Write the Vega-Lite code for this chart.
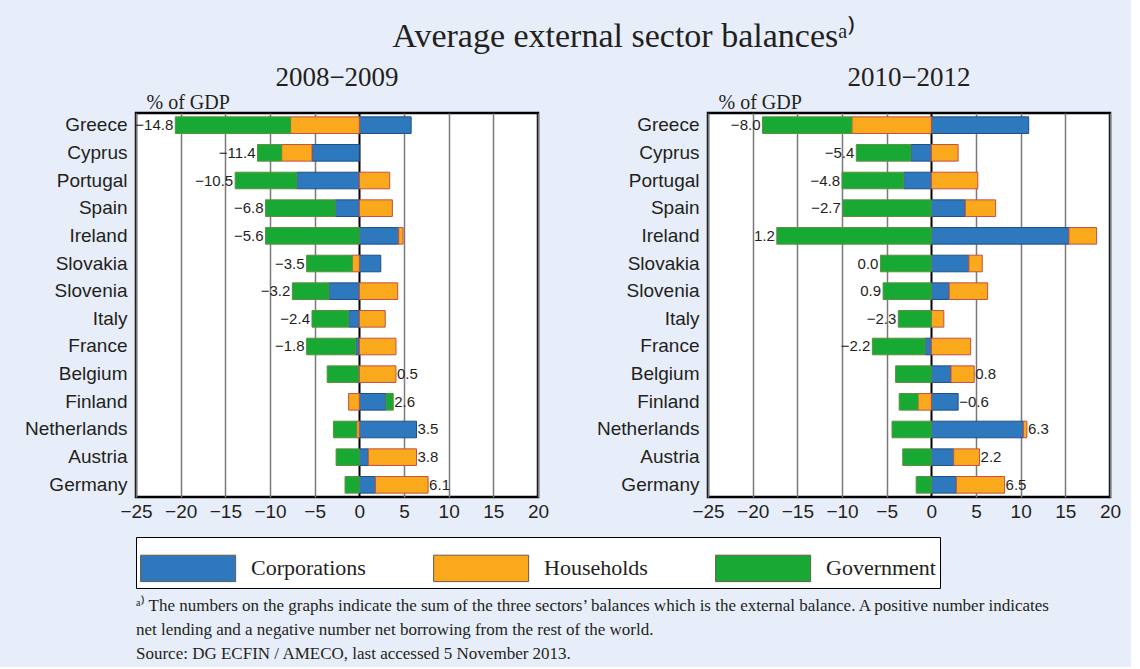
{
  "$schema": "https://vega.github.io/schema/vega-lite/v6.json",
  "background": "#E8EEF9",
  "padding": {"left": 23, "top": 20, "right": 10, "bottom": 5},
  "title": {"text": "Average external sector balancesᵃ⁾", "font": "Liberation Serif", "fontSize": 34, "fontWeight": "normal", "color": "#231F20", "anchor": "middle", "offset": 10, "dx": 52},
  "datasets": {
    "balances": [
      {"period": "2008−2009", "country": "Greece", "sector": "Corporations", "value": 5.8},
      {"period": "2008−2009", "country": "Greece", "sector": "Households", "value": -7.7},
      {"period": "2008−2009", "country": "Greece", "sector": "Government", "value": -12.9},
      {"period": "2008−2009", "country": "Cyprus", "sector": "Corporations", "value": -5.3},
      {"period": "2008−2009", "country": "Cyprus", "sector": "Households", "value": -3.4},
      {"period": "2008−2009", "country": "Cyprus", "sector": "Government", "value": -2.7},
      {"period": "2008−2009", "country": "Portugal", "sector": "Corporations", "value": -7.0},
      {"period": "2008−2009", "country": "Portugal", "sector": "Households", "value": 3.4},
      {"period": "2008−2009", "country": "Portugal", "sector": "Government", "value": -6.9},
      {"period": "2008−2009", "country": "Spain", "sector": "Corporations", "value": -2.7},
      {"period": "2008−2009", "country": "Spain", "sector": "Households", "value": 3.7},
      {"period": "2008−2009", "country": "Spain", "sector": "Government", "value": -7.8},
      {"period": "2008−2009", "country": "Ireland", "sector": "Corporations", "value": 4.4},
      {"period": "2008−2009", "country": "Ireland", "sector": "Households", "value": 0.5},
      {"period": "2008−2009", "country": "Ireland", "sector": "Government", "value": -10.5},
      {"period": "2008−2009", "country": "Slovakia", "sector": "Corporations", "value": 2.4},
      {"period": "2008−2009", "country": "Slovakia", "sector": "Households", "value": -0.8},
      {"period": "2008−2009", "country": "Slovakia", "sector": "Government", "value": -5.1},
      {"period": "2008−2009", "country": "Slovenia", "sector": "Corporations", "value": -3.4},
      {"period": "2008−2009", "country": "Slovenia", "sector": "Households", "value": 4.3},
      {"period": "2008−2009", "country": "Slovenia", "sector": "Government", "value": -4.1},
      {"period": "2008−2009", "country": "Italy", "sector": "Corporations", "value": -1.2},
      {"period": "2008−2009", "country": "Italy", "sector": "Households", "value": 2.9},
      {"period": "2008−2009", "country": "Italy", "sector": "Government", "value": -4.1},
      {"period": "2008−2009", "country": "France", "sector": "Corporations", "value": -0.4},
      {"period": "2008−2009", "country": "France", "sector": "Households", "value": 4.1},
      {"period": "2008−2009", "country": "France", "sector": "Government", "value": -5.5},
      {"period": "2008−2009", "country": "Belgium", "sector": "Corporations", "value": -0.1},
      {"period": "2008−2009", "country": "Belgium", "sector": "Households", "value": 4.1},
      {"period": "2008−2009", "country": "Belgium", "sector": "Government", "value": -3.5},
      {"period": "2008−2009", "country": "Finland", "sector": "Corporations", "value": 3.0},
      {"period": "2008−2009", "country": "Finland", "sector": "Households", "value": -1.2},
      {"period": "2008−2009", "country": "Finland", "sector": "Government", "value": 0.8},
      {"period": "2008−2009", "country": "Netherlands", "sector": "Corporations", "value": 6.4},
      {"period": "2008−2009", "country": "Netherlands", "sector": "Households", "value": -0.3},
      {"period": "2008−2009", "country": "Netherlands", "sector": "Government", "value": -2.6},
      {"period": "2008−2009", "country": "Austria", "sector": "Corporations", "value": 1.0},
      {"period": "2008−2009", "country": "Austria", "sector": "Households", "value": 5.4},
      {"period": "2008−2009", "country": "Austria", "sector": "Government", "value": -2.6},
      {"period": "2008−2009", "country": "Germany", "sector": "Corporations", "value": 1.8},
      {"period": "2008−2009", "country": "Germany", "sector": "Households", "value": 5.9},
      {"period": "2008−2009", "country": "Germany", "sector": "Government", "value": -1.6},
      {"period": "2010−2012", "country": "Greece", "sector": "Corporations", "value": 10.9},
      {"period": "2010−2012", "country": "Greece", "sector": "Households", "value": -8.9},
      {"period": "2010−2012", "country": "Greece", "sector": "Government", "value": -10.0},
      {"period": "2010−2012", "country": "Cyprus", "sector": "Corporations", "value": -2.3},
      {"period": "2010−2012", "country": "Cyprus", "sector": "Households", "value": 3.0},
      {"period": "2010−2012", "country": "Cyprus", "sector": "Government", "value": -6.1},
      {"period": "2010−2012", "country": "Portugal", "sector": "Corporations", "value": -3.1},
      {"period": "2010−2012", "country": "Portugal", "sector": "Households", "value": 5.2},
      {"period": "2010−2012", "country": "Portugal", "sector": "Government", "value": -6.9},
      {"period": "2010−2012", "country": "Spain", "sector": "Corporations", "value": 3.8},
      {"period": "2010−2012", "country": "Spain", "sector": "Households", "value": 3.4},
      {"period": "2010−2012", "country": "Spain", "sector": "Government", "value": -9.9},
      {"period": "2010−2012", "country": "Ireland", "sector": "Corporations", "value": 15.4},
      {"period": "2010−2012", "country": "Ireland", "sector": "Households", "value": 3.1},
      {"period": "2010−2012", "country": "Ireland", "sector": "Government", "value": -17.3},
      {"period": "2010−2012", "country": "Slovakia", "sector": "Corporations", "value": 4.2},
      {"period": "2010−2012", "country": "Slovakia", "sector": "Households", "value": 1.5},
      {"period": "2010−2012", "country": "Slovakia", "sector": "Government", "value": -5.7},
      {"period": "2010−2012", "country": "Slovenia", "sector": "Corporations", "value": 2.0},
      {"period": "2010−2012", "country": "Slovenia", "sector": "Households", "value": 4.3},
      {"period": "2010−2012", "country": "Slovenia", "sector": "Government", "value": -5.4},
      {"period": "2010−2012", "country": "Italy", "sector": "Corporations", "value": 0.0},
      {"period": "2010−2012", "country": "Italy", "sector": "Households", "value": 1.4},
      {"period": "2010−2012", "country": "Italy", "sector": "Government", "value": -3.7},
      {"period": "2010−2012", "country": "France", "sector": "Corporations", "value": -0.7},
      {"period": "2010−2012", "country": "France", "sector": "Households", "value": 4.4},
      {"period": "2010−2012", "country": "France", "sector": "Government", "value": -5.9},
      {"period": "2010−2012", "country": "Belgium", "sector": "Corporations", "value": 2.2},
      {"period": "2010−2012", "country": "Belgium", "sector": "Households", "value": 2.6},
      {"period": "2010−2012", "country": "Belgium", "sector": "Government", "value": -4.0},
      {"period": "2010−2012", "country": "Finland", "sector": "Corporations", "value": 3.0},
      {"period": "2010−2012", "country": "Finland", "sector": "Households", "value": -1.5},
      {"period": "2010−2012", "country": "Finland", "sector": "Government", "value": -2.1},
      {"period": "2010−2012", "country": "Netherlands", "sector": "Corporations", "value": 10.3},
      {"period": "2010−2012", "country": "Netherlands", "sector": "Households", "value": 0.4},
      {"period": "2010−2012", "country": "Netherlands", "sector": "Government", "value": -4.4},
      {"period": "2010−2012", "country": "Austria", "sector": "Corporations", "value": 2.5},
      {"period": "2010−2012", "country": "Austria", "sector": "Households", "value": 2.9},
      {"period": "2010−2012", "country": "Austria", "sector": "Government", "value": -3.2},
      {"period": "2010−2012", "country": "Germany", "sector": "Corporations", "value": 2.8},
      {"period": "2010−2012", "country": "Germany", "sector": "Households", "value": 5.4},
      {"period": "2010−2012", "country": "Germany", "sector": "Government", "value": -1.7}
    ]
  },
  "data": {"name": "balances"},
  "vconcat": [
    {
      "title": {
        "text": [
          "ᵃ⁾ The numbers on the graphs indicate the sum of the three sectors’ balances which is the external balance. A positive number indicates",
          "net lending and a negative number net borrowing from the rest of the world.",
          "Source: DG ECFIN / AMECO, last accessed 5 November 2013."
        ],
        "orient": "bottom", "anchor": "start", "frame": "group",
        "font": "Liberation Serif", "fontSize": 17, "fontWeight": "normal", "color": "#231F20",
        "lineHeight": 24, "offset": 9, "baseline": "top"
      },
      "facet": {
        "column": {
          "field": "period", "type": "nominal",
          "header": {"title": null, "labelFont": "Liberation Serif", "labelFontSize": 27, "labelColor": "#231F20", "labelPadding": -2}
        }
      },
      "spacing": 55,
      "resolve": {"axis": {"y": "independent"}},
      "spec": {
        "width": 402,
        "height": 384,
        "layer": [
          {
            "transform": [
              {"calculate": "indexof(['Corporations', 'Households', 'Government'], datum.sector)", "as": "sectorOrder"}
            ],
            "mark": {"type": "bar", "strokeWidth": 1},
            "encoding": {
              "y": {
                "field": "country", "type": "nominal",
                "sort": ["Greece", "Cyprus", "Portugal", "Spain", "Ireland", "Slovakia", "Slovenia", "Italy", "France", "Belgium", "Finland", "Netherlands", "Austria", "Germany"],
                "scale": {"paddingInner": 0.4, "paddingOuter": 0.14},
                "axis": {
                  "title": "% of GDP", "titleAngle": 0, "titleAlign": "left", "titleBaseline": "alphabetic",
                  "titleX": 10, "titleY": -5, "titleFont": "Liberation Serif", "titleFontSize": 20,
                  "titleFontWeight": "normal", "titleColor": "#231F20",
                  "labelFont": "Liberation Sans", "labelFontSize": 19, "labelColor": "#231F20",
                  "labelPadding": 9, "ticks": false, "domain": false
                }
              },
              "x": {
                "field": "value", "type": "quantitative", "stack": "zero",
                "scale": {"domain": [-25, 20], "nice": false, "zero": false},
                "axis": {
                  "title": null, "values": [-25, -20, -15, -10, -5, 0, 5, 10, 15, 20],
                  "grid": true,
                  "gridColor": {"condition": {"test": "datum.value === 0", "value": "#000000"}, "value": "#7a7a7a"},
                  "gridWidth": {"condition": {"test": "datum.value === 0", "value": 2}, "value": 1.5},
                  "ticks": false, "domain": false, "labelOverlap": false, "labelFlush": false,
                  "labelFont": "Liberation Sans", "labelFontSize": 19, "labelColor": "#231F20", "labelPadding": 3
                }
              },
              "order": {"field": "sectorOrder", "type": "quantitative"},
              "color": {
                "field": "sector", "type": "nominal",
                "sort": ["Corporations", "Households", "Government"],
                "scale": {"domain": ["Corporations", "Households", "Government"], "range": ["#2E78BE", "#F9A91B", "#18A935"]},
                "legend": {
                  "title": null, "orient": "bottom", "direction": "horizontal",
                  "symbolType": "M-1,-0.5H2.6V0.5H-1Z", "symbolSize": 2788,
                  "symbolStrokeWidth": 1, "symbolStrokeColor": "#6b5a4a",
                  "labelFont": "Liberation Serif", "labelFontSize": 22, "labelColor": "#231F20",
                  "labelOffset": 57, "columnPadding": 65, "padding": 4,
                  "fillColor": "white", "strokeColor": "black", "offset": 16, "labelLimit": 300
                }
              },
              "stroke": {
                "field": "sector", "type": "nominal",
                "scale": {"domain": ["Corporations", "Households", "Government"], "range": ["#1F4F86", "#C2504A", "#5E8F3E"]},
                "legend": null
              }
            }
          },
          {
            "transform": [
              {"joinaggregate": [{"op": "sum", "field": "value", "as": "total"}], "groupby": ["period", "country"]},
              {"filter": "datum.value < 0"},
              {"aggregate": [{"op": "sum", "field": "value", "as": "end"}, {"op": "max", "field": "total", "as": "total"}], "groupby": ["period", "country"]},
              {"filter": {"field": "country", "oneOf": ["Greece", "Cyprus", "Portugal", "Spain", "Ireland", "Slovakia", "Slovenia", "Italy", "France"]}}
            ],
            "mark": {"type": "text", "align": "right", "baseline": "middle", "dx": -2, "font": "Liberation Sans", "fontSize": 15, "color": "#231F20"},
            "encoding": {
              "y": {"field": "country", "type": "nominal", "sort": ["Greece", "Cyprus", "Portugal", "Spain", "Ireland", "Slovakia", "Slovenia", "Italy", "France", "Belgium", "Finland", "Netherlands", "Austria", "Germany"]},
              "x": {"field": "end", "type": "quantitative"},
              "text": {"field": "total", "type": "quantitative", "format": ".1f"}
            }
          },
          {
            "transform": [
              {"joinaggregate": [{"op": "sum", "field": "value", "as": "total"}], "groupby": ["period", "country"]},
              {"filter": "datum.value > 0"},
              {"aggregate": [{"op": "sum", "field": "value", "as": "end"}, {"op": "max", "field": "total", "as": "total"}], "groupby": ["period", "country"]},
              {"filter": {"field": "country", "oneOf": ["Belgium", "Finland", "Netherlands", "Austria", "Germany"]}}
            ],
            "mark": {"type": "text", "align": "left", "baseline": "middle", "dx": 1, "font": "Liberation Sans", "fontSize": 15, "color": "#231F20"},
            "encoding": {
              "y": {"field": "country", "type": "nominal", "sort": ["Greece", "Cyprus", "Portugal", "Spain", "Ireland", "Slovakia", "Slovenia", "Italy", "France", "Belgium", "Finland", "Netherlands", "Austria", "Germany"]},
              "x": {"field": "end", "type": "quantitative"},
              "text": {"field": "total", "type": "quantitative", "format": ".1f"}
            }
          }
        ]
      }
    }
  ],
  "resolve": {"legend": {"color": "independent"}},
  "config": {
    "view": {"stroke": "#000000", "strokeWidth": 2.5, "fill": "#FFFFFF"},
    "font": "Liberation Sans"
  }
}
